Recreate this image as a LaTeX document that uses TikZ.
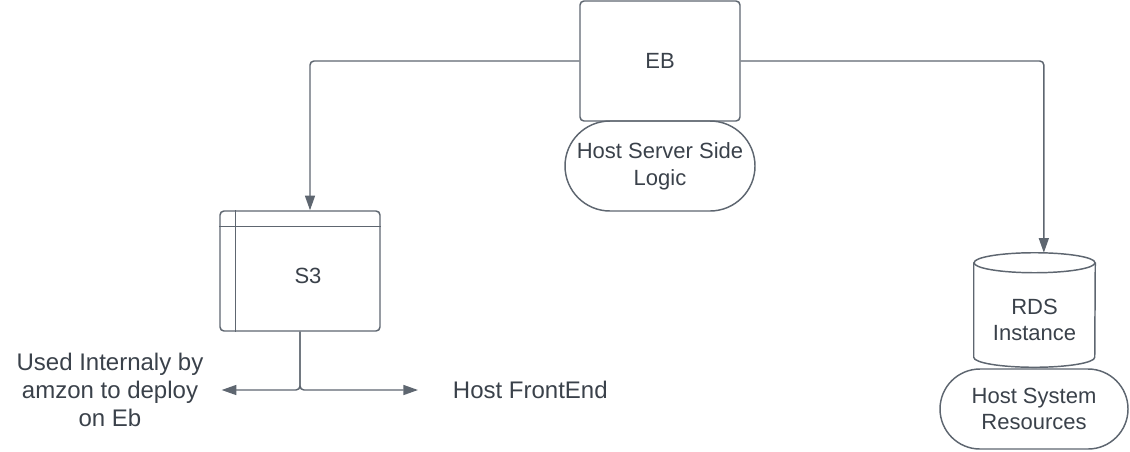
\documentclass[tikz,border=0pt]{standalone}
\usepackage{fontspec}
\setmainfont{Liberation Sans}
\usetikzlibrary{positioning,arrows.meta,shapes.misc}
\definecolor{lineclr}{HTML}{5E6670}
\definecolor{textclr}{HTML}{3A414A}

\begin{document}
\begin{tikzpicture}[x=0.75pt,y=-0.75pt,
  box/.style={draw=lineclr,line width=1.1pt,rounded corners=3pt,minimum width=120pt,minimum height=90pt,inner sep=0pt,text=textclr,font=\fontsize{16.5}{20}\selectfont},
  pill/.style={draw=lineclr,line width=1.1pt,rounded rectangle,inner sep=0pt,align=center,text=textclr,font=\fontsize{16.5}{20}\selectfont},
  boxtext/.style={align=center,text=textclr,font=\fontsize{16.5}{19.5}\selectfont},
  freetext/.style={align=center,text=textclr,font=\fontsize{18}{21}\selectfont,inner ysep=0pt},
  link/.style={draw=lineclr,line width=1.1pt,rounded corners=3pt,-{Triangle[length=11pt,width=7.5pt]}}]
\useasboundingbox (0,0) rectangle (1130,451);

% EB and what it hosts
\node[box] (eb) at (660,61) {EB};
\node[pill,minimum width=142.5pt,minimum height=67.5pt] (logic) at (660,166) {Host Server Side\\Logic};

% S3 bucket
\node[box] (s3) at (300,271) {};
\node[boxtext] (s3text) at (308,276) {S3};
\draw[lineclr,line width=1.1pt] ([xshift=12pt]s3.north west) -- ([xshift=12pt]s3.south west);
\draw[lineclr,line width=1.1pt] ([yshift=-12pt]s3.north west) -- ([yshift=-12pt]s3.north east);

% RDS cylinder
\node[minimum width=90.75pt,minimum height=70.5pt,inner sep=0pt] (rds) at (1034.5,310) {};
\node[boxtext] (rdstext) at (1034.5,320) {RDS\\Instance};
\draw[lineclr,line width=1.1pt] (rds.north west) -- (rds.south west) arc[start angle=180,end angle=360,x radius=45.375pt,y radius=7.5pt] -- (rds.north east);
\draw[lineclr,line width=1.1pt] (rds.north) ellipse[x radius=45.375pt,y radius=7.5pt];
\node[pill,minimum width=141pt,minimum height=60pt] (res) at (1034,409) {Host System\\Resources};

% texts next to S3
\node[freetext,inner xsep=13.5pt] (used) at (110,390) {Used Internaly by\\amzon to deploy\\on Eb};
\node[freetext,inner xsep=26pt,anchor=west] (front) at (418,390) {Host FrontEnd};

% connectors
\draw[link] (eb.west) -| ([xshift=7.5pt]s3.north);
\draw[link] (eb.east) -| ([xshift=7pt,yshift=7.5pt]rds.north);
\draw[link] (s3.south) |- (used.east);
\draw[link] (s3.south) |- (front.west);

\end{tikzpicture}
\end{document}
